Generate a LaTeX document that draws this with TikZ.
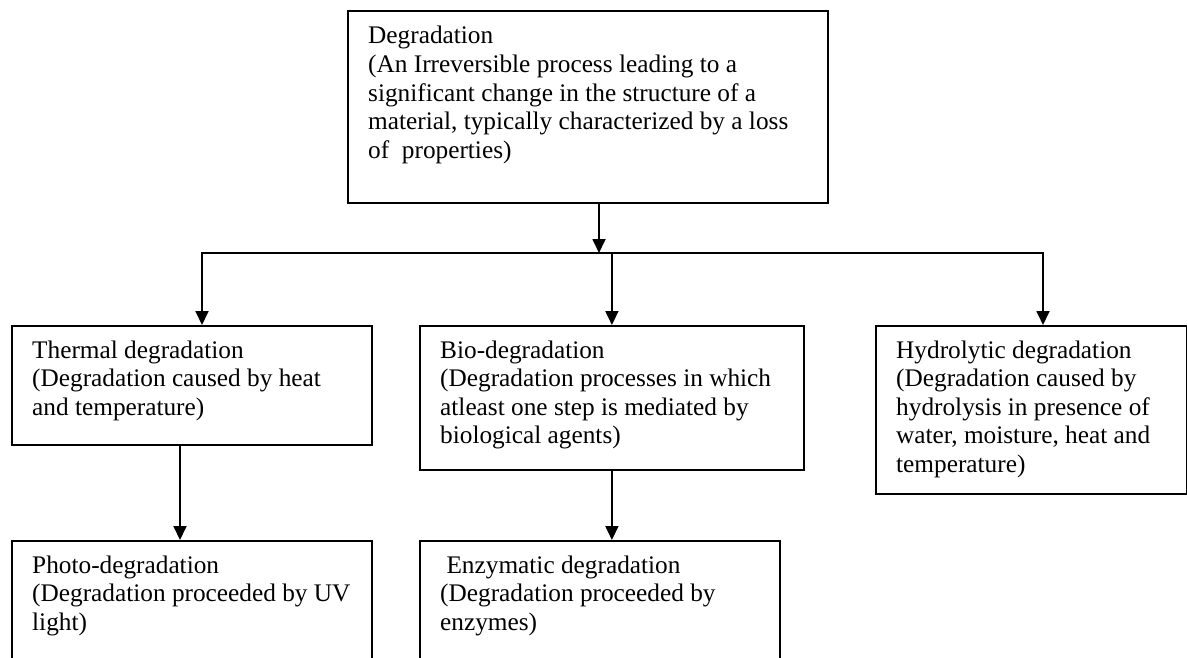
\documentclass[tikz,border=0pt]{standalone}
\usepackage{fontspec}
\setmainfont{Liberation Serif}
\usetikzlibrary{arrows.meta}
\begin{document}
\begin{tikzpicture}[x=1pt,y=-1pt,
  box/.style={draw, line width=1.8pt, inner sep=0pt, anchor=north west, rectangle},
  txt/.style={inner sep=0pt, anchor=base west, font=\fontsize{25.3}{28.6}\selectfont},
  arr/.style={line width=1.8pt, -{Triangle[width=13pt,length=14pt]}},
  conn/.style={line width=1.8pt}]
\useasboundingbox (0,0) rectangle (1187,658);
\clip (0,0) rectangle (1187,658);
% boxes
\node[box, minimum width=480pt, minimum height=192pt] (top) at (347,10) {};
\node[box, minimum width=360pt, minimum height=119pt] (thermal) at (11,325) {};
\node[box, minimum width=384pt, minimum height=144pt] (bio) at (419,325) {};
\node[box, minimum width=311pt, minimum height=168pt] (hydro) at (875,325) {};
\node[box, minimum width=360pt, minimum height=140pt] (photo) at (11,540) {};
\node[box, minimum width=360pt, minimum height=140pt] (enz) at (419,540) {};
% texts
\node[txt] (topt) at (368,44) {\parbox[t]{460pt}{Degradation\\(An Irreversible process leading to a\\significant change in the structure of a\\material, typically characterized by a loss\\of\ \ properties)}};
\node[txt] (thermalt) at (32,358) {\parbox[t]{340pt}{Thermal degradation\\(Degradation caused by heat\\and temperature)}};
\node[txt] (biot) at (440,358) {\parbox[t]{360pt}{Bio-degradation\\(Degradation processes in which\\atleast one step is mediated by\\biological agents)}};
\node[txt] (hydrot) at (896,358) {\parbox[t]{290pt}{Hydrolytic degradation\\(Degradation caused by\\hydrolysis in presence of\\water, moisture, heat and\\temperature)}};
\node[txt] (photot) at (32,573) {\parbox[t]{340pt}{Photo-degradation\\(Degradation proceeded by UV\\light)}};
\node[txt] (enzt) at (440,573) {\parbox[t]{340pt}{\ Enzymatic degradation\\(Degradation proceeded by\\enzymes)}};
% connectors
\coordinate (hub) at (599,253);
\coordinate (hl) at (202,253);
\coordinate (hr) at (1043,253);
\coordinate (tp) at (180,0);
\draw[arr] (top.south -| hub) -- (hub);
\draw[arr] (hub) -- (hl) -- (hl |- thermal.north);
\draw[arr] (hub) -- (hr) -- (hr |- hydro.north);
\draw[arr] (bio.north |- hl) -- (bio.north);
\draw[arr] (thermal.south -| tp) -- (photo.north -| tp);
\draw[arr] (bio.south) -- (bio.south |- enz.north);
\end{tikzpicture}
\end{document}
